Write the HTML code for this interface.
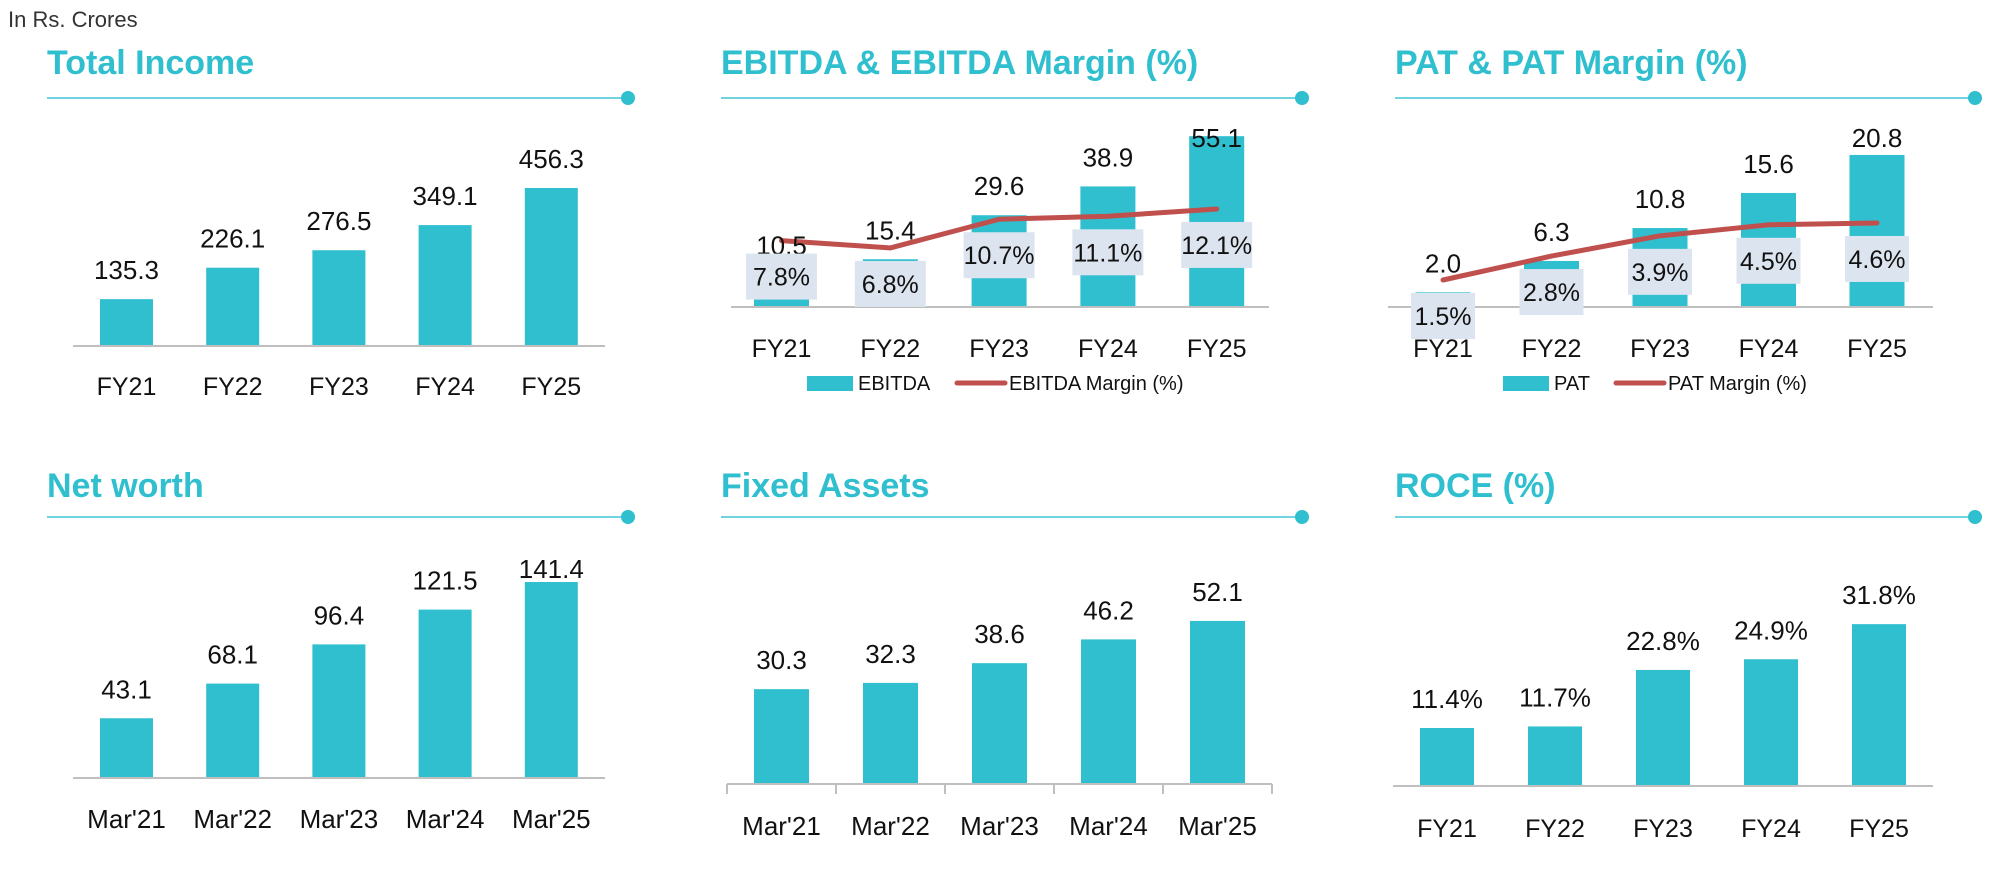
<!DOCTYPE html>
<html><head><meta charset="utf-8"><style>
html,body{margin:0;padding:0;background:#fff;}
svg{display:block;font-family:"Liberation Sans",Arial,sans-serif;}
</style></head><body>
<svg id="root" width="2014" height="870" viewBox="0 0 2014 870" xmlns="http://www.w3.org/2000/svg">
<text x="8" y="27" font-size="22" fill="#333">In Rs. Crores</text>
</svg>
<script>
// ---- data ----
const fyCats = ["FY21","FY22","FY23","FY24","FY25"];
const marCats = ["Mar'21","Mar'22","Mar'23","Mar'24","Mar'25"];
const totalIncome = [135.3,226.1,276.5,349.1,456.3];
const ebitda = [10.5,15.4,29.6,38.9,55.1];
const ebitdaMargin = [7.8,6.8,10.7,11.1,12.1];
const pat = [2.0,6.3,10.8,15.6,20.8];
const patMargin = [1.5,2.8,3.9,4.5,4.6];
const netWorth = [43.1,68.1,96.4,121.5,141.4];
const fixedAssets = [30.3,32.3,38.6,46.2,52.1];
const roce = [11.4,11.7,22.8,24.9,31.8];

const NS="http://www.w3.org/2000/svg";
const root=document.getElementById('root');
function mk(tag,attrs,parent){const e=document.createElementNS(NS,tag);for(const k in attrs)e.setAttribute(k,attrs[k]);(parent||root).appendChild(e);return e;}
const TEAL="#2fbfcf", RED="#c0504d";

function panel(cfg){
  const g=mk('g',{});
  
  
  const t=mk('text',{x:cfg.tx,y:cfg.ty,'font-size':34,'font-weight':'bold',fill:TEAL},g);
  t.textContent=cfg.title;
  
  
  const ln=mk('line',{x1:cfg.tx,x2:cfg.lx2,y1:cfg.ly,y2:cfg.ly,stroke:'#71d3de','stroke-width':2},g);
  
  
  const dot=mk('circle',{cx:cfg.lx2,cy:cfg.ly,r:7,fill:TEAL},g);
  
  
  const xPos=i=>cfg.c0+i*cfg.step;
  const yBar=v=>cfg.base-v*cfg.k;
  cfg.values.forEach((v,i)=>{
    const r=mk('rect',{x:xPos(i)-cfg.bw/2,y:yBar(v),width:cfg.bw,height:cfg.base-yBar(v),fill:TEAL},g);
    
    
  });
  const ax=mk('line',{x1:cfg.ax1,x2:cfg.ax2,y1:cfg.base,y2:cfg.base,stroke:'#bfbfbf','stroke-width':2},g);
  
  
  if(cfg.ticks){
    for(let i=0;i<=cfg.values.length;i++){
      const tx=cfg.ax1+i*(cfg.ax2-cfg.ax1)/cfg.values.length;
      const tk=mk('line',{x1:tx,x2:tx,y1:cfg.base,y2:cfg.base+10,stroke:'#bfbfbf','stroke-width':2},g);
      
      
    }
  }
  if(cfg.line){
    const yL=m=>cfg.lBase-m*cfg.lk;
    const pts=cfg.line.map((m,i)=>xPos(i)+','+yL(m)).join(' ');
    const pl=mk('polyline',{points:pts,fill:'none',stroke:RED,'stroke-width':5,'stroke-linejoin':'round','stroke-linecap':'round'},g);
    
    
  }
  cfg.values.forEach((v,i)=>{
    const y=Math.max(yBar(v)-20,cfg.labelMin);
    const tl=mk('text',{x:xPos(i),y:y,'font-size':26,'text-anchor':'middle',fill:'#111'},g);
    tl.textContent=v.toFixed(1)+(cfg.pct?'%':'');
    
    
  });
  if(cfg.line){
    const yL=m=>cfg.lBase-m*cfg.lk;
    cfg.line.forEach((m,i)=>{
      const cy=yL(m)+36;
      const b=mk('rect',{x:xPos(i)-cfg.boxW/2,y:cy-23,width:cfg.boxW,height:46,fill:'#dce4ef'},g);
      
      
      const tl=mk('text',{x:xPos(i),y:cy+9,'font-size':25,'text-anchor':'middle',fill:'#111'},g);
      tl.textContent=m.toFixed(1)+'%';
      
      
    });
  }
  cfg.cats.forEach((c,i)=>{
    const tl=mk('text',{x:xPos(i),y:cfg.catY,'font-size':cfg.catFs||25,'text-anchor':'middle',fill:'#111'},g);
    tl.textContent=c;
    
    
  });
  if(cfg.legend){
    const L=cfg.legend;
    const sw=mk('rect',{x:L.sx,y:376,width:46,height:15,fill:TEAL},g);
    
    
    const t1=mk('text',{x:L.sx+51,y:390,'font-size':20,fill:'#111'},g);
    t1.textContent=L.barText;
    
    
    const l2=mk('line',{x1:L.lx,x2:L.lx+48,y1:383,y2:383,stroke:RED,'stroke-width':5,'stroke-linecap':'round'},g);
    
    
    const t2=mk('text',{x:L.lx+52,y:390,'font-size':20,fill:'#111'},g);
    t2.textContent=L.lineText;
    
    
  }
}

panel({name:'total-income',title:'Total Income',tx:47,ty:74,lx2:628,ly:98,cats:fyCats,values:totalIncome,
  c0:126.5,step:106.2,bw:53,base:346,k:0.3463,ax1:73,ax2:605,labelMin:0,catY:395});
panel({name:'ebitda',title:'EBITDA & EBITDA Margin (%)',tx:721,ty:74,lx2:1302,ly:98,cats:fyCats,values:ebitda,
  c0:781.5,step:108.8,bw:55,base:307,k:3.10,ax1:731,ax2:1269,labelMin:147,catY:357,
  line:ebitdaMargin,lBase:298,lk:7.36,boxW:71,legend:{sx:807,lx:957,barText:'EBITDA',lineText:'EBITDA Margin (%)'}});
panel({name:'pat',title:'PAT & PAT Margin (%)',tx:1395,ty:74,lx2:1975,ly:98,cats:fyCats,values:pat,
  c0:1443,step:108.5,bw:55,base:307,k:7.31,ax1:1388,ax2:1933,labelMin:147,catY:357,
  line:patMargin,lBase:307.6,lk:18.4,boxW:64,legend:{sx:1503,lx:1616,barText:'PAT',lineText:'PAT Margin (%)'}});
panel({name:'net-worth',title:'Net worth',tx:47,ty:497,lx2:628,ly:517,cats:marCats,values:netWorth,
  c0:126.5,step:106.2,bw:53,base:778,k:1.386,ax1:73,ax2:605,labelMin:578,catY:828,catFs:26});
panel({name:'fixed-assets',title:'Fixed Assets',tx:721,ty:497,lx2:1302,ly:517,cats:marCats,values:fixedAssets,
  c0:781.5,step:109,bw:55,base:784,k:3.13,ax1:727,ax2:1272,labelMin:0,catY:835,catFs:26,ticks:true});
panel({name:'roce',title:'ROCE (%)',tx:1395,ty:497,lx2:1975,ly:517,cats:fyCats,values:roce,pct:true,
  c0:1447,step:108,bw:54,base:786,k:5.09,ax1:1393,ax2:1933,labelMin:0,catY:837});
</script>
</body></html>
